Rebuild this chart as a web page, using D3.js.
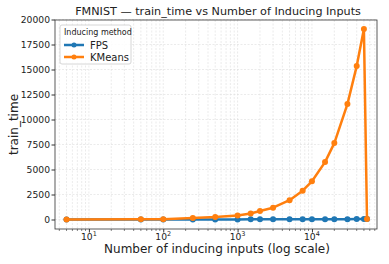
<!DOCTYPE html>
<html><head><meta charset="utf-8">
<script src="https://cdn.jsdelivr.net/npm/d3@7"></script>
<style>body{margin:0;background:#fff}svg{font-family:"DejaVu Sans",sans-serif}</style>
</head><body>
<svg id="c" width="389" height="264"></svg>
<script>
const inducing = [5, 50, 100, 250, 500, 1000, 1500, 2000, 3000, 5000, 7500, 10000, 15000, 20000, 30000, 40000, 50000, 55000];
const fpsTime = [2, 4, 5, 8, 10, 12, 14, 16, 18, 20, 22, 25, 28, 30, 35, 40, 45, 50];
const kmeansTime = [5, 15, 30, 140, 240, 400, 600, 850, 1180, 1930, 2880, 3820, 5740, 7640, 11540, 15340, 19050, 40];
const yTicks = [0, 2500, 5000, 7500, 10000, 12500, 15000, 17500, 20000];
const xTicks = [10, 100, 1000, 10000];
const series = [{name: "FPS", color: "#1f77b4", values: fpsTime}, {name: "KMeans", color: "#ff7f0e", values: kmeansTime}];

const svg = d3.select("#c");
const L = 55, R = 377, T = 20, B = 229;
const x = d3.scaleLog().domain([3.5, 75000]).range([L, R]);
const y = d3.scaleLinear().domain([-950, 19950]).range([B, T]);

const minor = [];
for (let e = 0; e <= 4; e++) for (let m = 1; m <= 9; m++) { const v = m * Math.pow(10, e); if (v >= 3.5 && v <= 75000) minor.push(v); }

const g = svg.append("g");
g.selectAll(".gx").data(minor).enter().append("line")
  .attr("x1", d => x(d)).attr("x2", d => x(d)).attr("y1", T).attr("y2", B)
  .attr("stroke", "#ddd").attr("stroke-width", 0.6).attr("stroke-dasharray", "2,1.5");
g.selectAll(".gy").data(yTicks).enter().append("line")
  .attr("x1", L).attr("x2", R).attr("y1", d => y(d)).attr("y2", d => y(d))
  .attr("stroke", "#ddd").attr("stroke-width", 0.6).attr("stroke-dasharray", "2,1.5");

const xAxis = d3.axisBottom(x).tickValues(xTicks).tickSize(3.5).tickFormat(() => "");
const xa = svg.append("g").attr("transform", `translate(0,${B})`).call(xAxis);
xa.select(".domain").remove();
xa.selectAll(".minor").data(minor.filter(v => !xTicks.includes(v))).enter().append("line")
  .attr("x1", d => x(d)).attr("x2", d => x(d)).attr("y1", 0).attr("y2", 2).attr("stroke", "#333").attr("stroke-width", 0.6);
xa.selectAll(".tick line").attr("stroke", "#333");
xTicks.forEach(v => {
  const t = svg.append("text").attr("x", x(v)).attr("y", B + 11).attr("text-anchor", "middle").attr("font-size", 9.2).attr("fill", "#222");
  t.append("tspan").text("10");
  t.append("tspan").attr("dy", -4).attr("font-size", 6.5).text(Math.round(Math.log10(v)));
});
const yAxis = d3.axisLeft(y).tickValues(yTicks).tickSize(3.5).tickFormat(d3.format("d"));
const ya = svg.append("g").attr("transform", `translate(${L},0)`).call(yAxis);
ya.select(".domain").remove();
ya.selectAll(".tick text").attr("font-size", 9.2).attr("fill", "#222").attr("font-family", "DejaVu Sans").attr("x", -5);
ya.selectAll(".tick line").attr("stroke", "#333");

svg.append("rect").attr("x", L).attr("y", T).attr("width", R - L).attr("height", B - T)
  .attr("fill", "none").attr("stroke", "#333").attr("stroke-width", 0.8);

const line = d3.line().x((d, i) => x(inducing[i])).y(d => y(d));
series.forEach(s => {
  svg.append("path").datum(s.values).attr("d", line).attr("fill", "none")
    .attr("stroke", s.color).attr("stroke-width", 2.5).attr("stroke-linejoin", "round");
  svg.selectAll(null).data(s.values).enter().append("circle")
    .attr("cx", (d, i) => x(inducing[i])).attr("cy", d => y(d)).attr("r", 3).attr("fill", s.color);
});

svg.append("text").attr("x", 218).attr("y", 15).attr("text-anchor", "middle").attr("font-size", 11.2).attr("fill", "#222")
  .text("FMNIST — train_time vs Number of Inducing Inputs");
svg.append("text").attr("x", 217).attr("y", 253).attr("text-anchor", "middle").attr("font-size", 12).attr("fill", "#222")
  .text("Number of inducing inputs (log scale)");
svg.append("text").attr("transform", `translate(18,${(T + B) / 2}) rotate(-90)`).attr("text-anchor", "middle").attr("font-size", 12).attr("fill", "#222")
  .text("train_time");

const lg = svg.append("g").attr("transform", "translate(60,25)");
lg.append("rect").attr("width", 71).attr("height", 39).attr("rx", 2).attr("fill", "#fff").attr("fill-opacity", 0.85).attr("stroke", "#ccc").attr("stroke-width", 0.8);
lg.append("text").attr("x", 4).attr("y", 10).attr("font-size", 8).attr("fill", "#222").text("Inducing method");
series.forEach((s, i) => {
  const yy = 20 + i * 12;
  lg.append("line").attr("x1", 4).attr("x2", 24).attr("y1", yy).attr("y2", yy).attr("stroke", s.color).attr("stroke-width", 2.5);
  lg.append("circle").attr("cx", 14).attr("cy", yy).attr("r", 2.5).attr("fill", s.color);
  lg.append("text").attr("x", 30).attr("y", yy + 3.5).attr("font-size", 10).attr("fill", "#222").text(s.name);
});
</script>
</body></html>
